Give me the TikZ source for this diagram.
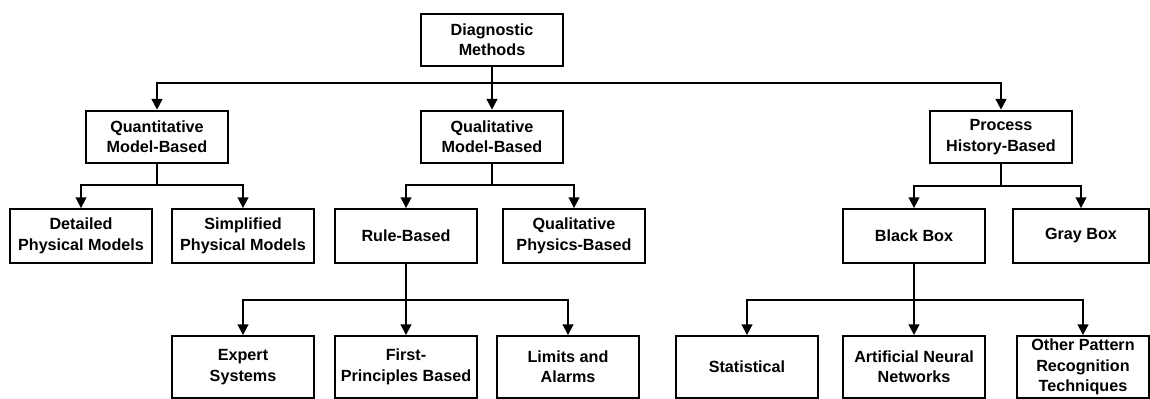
\documentclass[tikz,border=0pt]{standalone}
\usepackage{fontspec}
\setmainfont{Liberation Sans}
\usetikzlibrary{arrows.meta}

\begin{document}
\begin{tikzpicture}[x=0.025cm,y=-0.025cm,
  box/.style={draw,line width=1.3pt,align=center,inner sep=1pt,
    font=\fontsize{11.5}{14.5}\selectfont\bfseries,
    minimum width=3.53cm,minimum height=1.32cm},
  tall/.style={box,minimum height=1.55cm},
  ln/.style={line width=1.3pt},
  arr/.style={ln,-{Triangle[length=0.27cm,width=0.27cm]}}]
\useasboundingbox (0,0) rectangle (1150,399);
% levels
\node[box] (dm) at (492,40) {Diagnostic\\Methods};
\node[box] (quant) at (157,137) {Quantitative\\Model-Based};
\node[box] (qual) at (492,137) {Qualitative\\Model-Based};
\node[box] (proc) at (1001,137) {Process\\History-Based};
\node[box,minimum height=1.35cm] (det) at (81,236) {Detailed\\Physical Models};
\node[box,minimum height=1.35cm] (simp) at (243,236) {Simplified\\Physical Models};
\node[box,minimum height=1.35cm] (rule) at (406,236) {Rule-Based};
\node[box,minimum height=1.35cm] (qphys) at (574,236) {Qualitative\\Physics-Based};
\node[box,minimum height=1.35cm] (black) at (914,236) {Black Box};
\node[box,minimum height=1.35cm,minimum width=3.4cm] (gray) at (1081,236) {Gray Box};
\node[tall] (exp) at (243,367) {Expert\\Systems};
\node[tall] (first) at (406,367) {First-\\Principles Based};
\node[tall] (lim) at (568,367) {Limits and\\Alarms};
\node[tall] (stat) at (747,367) {Statistical};
\node[tall] (ann) at (914,367) {Artificial Neural\\Networks};
\node[tall,minimum width=3.3cm] (other) at (1083,367) {Other Pattern\\Recognition\\Techniques};
% buses
\coordinate (b0) at (492,83);
\coordinate (b1) at (157,185);
\coordinate (b2) at (492,185);
\coordinate (b3) at (1001,186);
\coordinate (b4) at (406,300);
\coordinate (b5) at (914,300);
\draw[ln] (dm.south) -- (b0);
\foreach \n in {quant,qual,proc}
\draw[arr] (b0) -| (\n.north);
\draw[ln] (quant.south) -- (b1);
\foreach \n in {det,simp}
\draw[arr] (b1) -| (\n.north);
\draw[ln] (qual.south) -- (b2);
\foreach \n in {rule,qphys}
\draw[arr] (b2) -| (\n.north);
\draw[ln] (proc.south) -- (b3);
\foreach \n in {black,gray}
\draw[arr] (b3) -| (\n.north);
\draw[ln] (rule.south) -- (b4);
\foreach \n in {exp,first,lim}
\draw[arr] (b4) -| (\n.north);
\draw[ln] (black.south) -- (b5);
\foreach \n in {stat,ann,other}
\draw[arr] (b5) -| (\n.north);
\end{tikzpicture}
\end{document}
